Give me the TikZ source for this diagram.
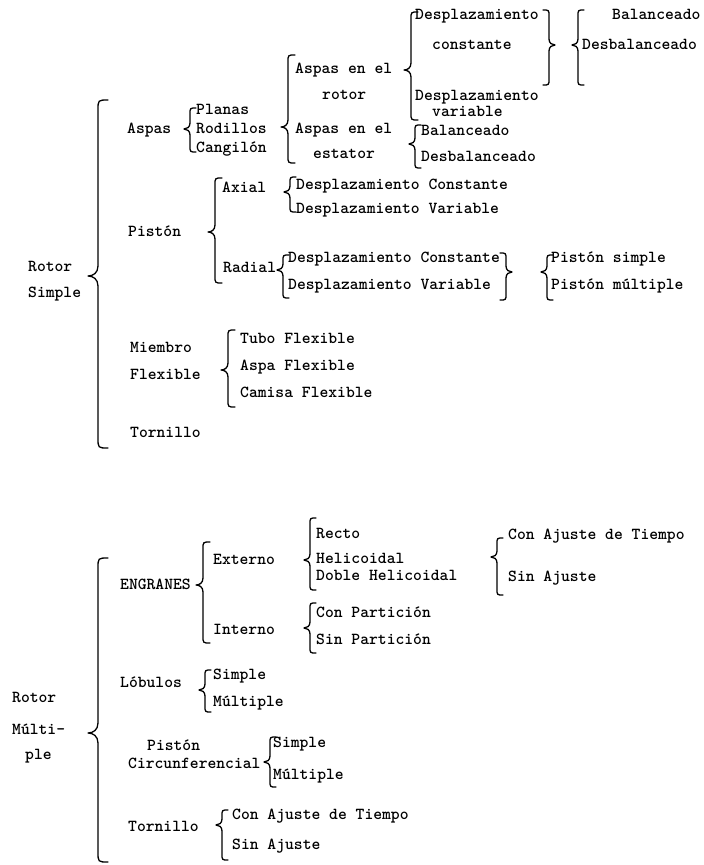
\documentclass[tikz,border=0pt]{standalone}
\tikzset{
  txt/.style={anchor=west, inner sep=0pt, font=\ttfamily\bfseries\fontsize{16.8}{18}\selectfont, text height=8pt, text depth=0pt},
  brc/.style={line width=1.3pt, line cap=round, line join=round},
}
% left brace: spine x, top y, tip y, bottom y, width
\newcommand\Lbrc[5]{%
  \draw[brc] (#1+#5,#2) .. controls (#1,#2) .. (#1,#2+#5) -- (#1,#3-#5)
    .. controls (#1,#3-0.3*#5) and (#1-0.5*#5,#3) .. (#1-#5,#3)
    .. controls (#1-0.5*#5,#3) and (#1,#3+0.3*#5) .. (#1,#3+#5)
    -- (#1,#4-#5) .. controls (#1,#4) .. (#1+#5,#4);}
% right brace
\newcommand\Rbrc[5]{%
  \draw[brc] (#1-#5,#2) .. controls (#1,#2) .. (#1,#2+#5) -- (#1,#3-#5)
    .. controls (#1,#3-0.3*#5) and (#1+0.5*#5,#3) .. (#1+#5,#3)
    .. controls (#1+0.5*#5,#3) and (#1,#3+0.3*#5) .. (#1,#3+#5)
    -- (#1,#4-#5) .. controls (#1,#4) .. (#1-#5,#4);}
\begin{document}
\begin{tikzpicture}[x=1pt,y=-1pt]
\useasboundingbox (0,0) rectangle (704,865);
% ---------- Rotor Simple ----------
\node[txt] (rs1) at (28,267) {Rotor};
\node[txt] (rs2) at (28,293) {Simple};
\Lbrc{98}{100}{276}{448}{10}
\node[txt] (aspas) at (127,129) {Aspas};
\Lbrc{190}{108}{129}{152}{6}
\node[txt] (planas) at (196,110) {Planas};
\node[txt] (rodillos) at (196,129) {Rodillos};
\node[txt] (cangilon) at (196,148) {Cangilón};
\Lbrc{288}{55}{127}{163}{7}
\node[txt] (aer) at (295,69) {Aspas en el};
\node[txt] (rotor) at (322,95) {rotor};
\node[txt] (aee) at (295,129) {Aspas en el};
\node[txt] (estator) at (313,154) {estator};
\Lbrc{411}{12}{70}{120}{7}
\node[txt] (dc1) at (415,15) {Desplazamiento};
\node[txt] (dc2) at (432,45) {constante};
\node[txt] (dv1) at (415,96) {Desplazamiento};
\node[txt] (dv2) at (432,112) {variable};
\Rbrc{549}{10}{45}{85}{6}
\Lbrc{578}{10}{45}{85}{6}
\node[txt] (bal1) at (612,15) {Balanceado};
\node[txt] (desb1) at (582,45) {Desbalanceado};
\Lbrc{415}{125}{144}{168}{6}
\node[txt] (bal2) at (421,131) {Balanceado};
\node[txt] (desb2) at (421,157) {Desbalanceado};
\node[txt] (piston) at (128,232) {Pistón};
\Lbrc{215}{178}{232}{283}{7}
\node[txt] (axial) at (222,188) {Axial};
\Lbrc{290}{177}{192}{212}{6}
\node[txt] (adc) at (296,185) {Desplazamiento Constante};
\node[txt] (adv) at (296,209) {Desplazamiento Variable};
\node[txt] (radial) at (223,268) {Radial};
\Lbrc{283}{255}{270}{298}{6}
\node[txt] (rdc) at (288,258) {Desplazamiento Constante};
\node[txt] (rdv) at (288,285) {Desplazamiento Variable};
\Rbrc{506}{253}{272}{300}{6}
\Lbrc{547}{255}{272}{300}{6}
\node[txt] (ps) at (551,258) {Pistón simple};
\node[txt] (pm) at (551,285) {Pistón múltiple};
\node[txt] (miembro) at (130,348) {Miembro};
\node[txt] (flexible) at (130,375) {Flexible};
\Lbrc{228}{330}{370}{407}{7}
\node[txt] (tubo) at (240,339) {Tubo Flexible};
\node[txt] (aspa) at (240,366) {Aspa Flexible};
\node[txt] (camisa) at (240,393) {Camisa Flexible};
\node[txt] (torn1) at (130,433) {Tornillo};
% ---------- Rotor Multiple ----------
\node[txt] (rm1) at (12,698) {Rotor};
\node[txt] (rm2) at (12,730) {Múlti-};
\node[txt] (rm3) at (25,755) {ple};
\Lbrc{98}{558}{733}{862}{10}
\node[txt] (engr) at (120,585) {ENGRANES};
\Lbrc{203}{542}{585}{643}{7}
\node[txt] (ext) at (213,560) {Externo};
\node[txt] (int) at (213,630) {Interno};
\Lbrc{310}{518}{560}{590}{6}
\node[txt] (recto) at (316,534) {Recto};
\node[txt] (hel) at (316,559) {Helicoidal};
\node[txt] (dhel) at (316,576) {Doble Helicoidal};
\Lbrc{497}{538}{557}{595}{6}
\node[txt] (caj1) at (508,535) {Con Ajuste de Tiempo};
\node[txt] (saj1) at (508,577) {Sin Ajuste};
\Lbrc{310}{603}{628}{653}{6}
\node[txt] (cpar) at (316,613) {Con Partición};
\node[txt] (spar) at (316,640) {Sin Partición};
\node[txt] (lob) at (120,683) {Lóbulos};
\Lbrc{205}{670}{690}{712}{6}
\node[txt] (lsim) at (213,675) {Simple};
\node[txt] (lmul) at (213,702) {Múltiple};
\node[txt] (pc1) at (147,746) {Pistón};
\node[txt] (pc2) at (128,764) {Circunferencial};
\Lbrc{270}{737}{762}{787}{6}
\node[txt] (pcs) at (273,743) {Simple};
\node[txt] (pcm) at (273,775) {Múltiple};
\node[txt] (torn2) at (128,827) {Tornillo};
\Lbrc{222}{810}{825}{860}{6}
\node[txt] (caj2) at (232,815) {Con Ajuste de Tiempo};
\node[txt] (saj2) at (232,845) {Sin Ajuste};
\end{tikzpicture}
\end{document}
